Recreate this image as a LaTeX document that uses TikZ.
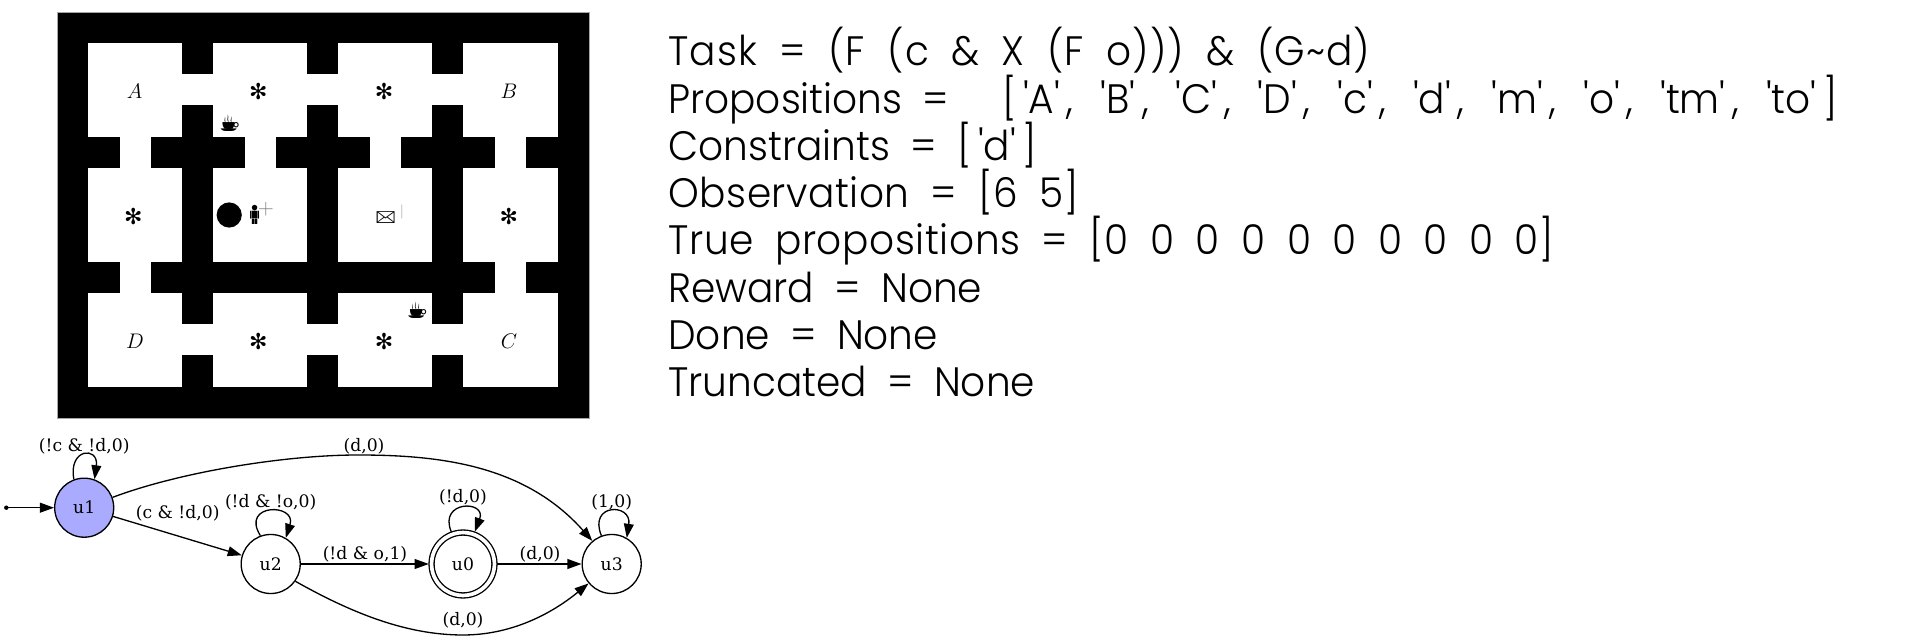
\documentclass[tikz,border=0pt]{standalone}
\usepackage{fontspec}
\usepackage{amsfonts, amsmath, amssymb}
\usepackage{marvosym}
\usetikzlibrary{arrows.meta}
\newfontfamily\infofont[WordSpace=1.9, FakeStretch=0.95]{Poppins Light}
\newfontfamily\dotfont{DejaVu Serif}
\newfontfamily\starfont{DejaVu Sans}
\newcommand{\qt}[1]{\kern3.8pt'#1'\kern3.8pt}
\definecolor{activeblue}{HTML}{AAAAFF}
\tikzset{
  inforow/.style={anchor=base west, inner sep=0pt, font=\infofont\fontsize{23.4pt}{28pt}\selectfont},
  letterbox/.style={inner sep=0pt, font=\fontsize{13pt}{15pt}\selectfont},
  starbox/.style={inner sep=0pt, font=\starfont\fontsize{12.5pt}{14pt}\selectfont},
  state/.style={draw, circle, line width=0.75pt, minimum size=33.6pt, inner sep=0pt, font=\dotfont\fontsize{9.8pt}{11pt}\selectfont},
  edgelabel/.style={inner sep=0pt, font=\dotfont\fontsize{9.8pt}{11pt}\selectfont},
  edge/.style={line width=0.75pt, -{Triangle[length=8pt,width=5.6pt]}}
}
\begin{document}
\begin{tikzpicture}[x=0.02cm, y=-0.02cm]
\useasboundingbox (0,0) rectangle (1908,641);

% the grid world
\fill[black, draw=gray!70, line width=0.3pt] (57,12.7) rectangle (589,418.3);
\foreach \xa/\xb in {88/182, 213/307, 338/432, 463/558}
  \foreach \ya/\yb in {42.7/136.7, 167.7/261.7, 293/386.7}
    \fill[white] (\xa,\ya) rectangle (\xb,\yb);
\foreach \xa/\xb in {182/213, 307/338, 432/463}
  \foreach \ya/\yb in {74/105.3, 324/355}
    \fill[white] (\xa,\ya) rectangle (\xb,\yb);
\foreach \xa/\xb/\ya/\yb in {119.6/151/136.7/167.7, 245/276/136.7/167.7, 369.7/400.7/136.7/167.7, 495/526/136.7/167.7, 119.6/151/261.7/293, 495/526/261.7/293}
  \fill[white] (\xa,\ya) rectangle (\xb,\yb);

\node[letterbox] (roomA) at (134.6,91.7) {$A$};
\node[letterbox] (roomB) at (509,91.7) {$B$};
\node[letterbox] (roomC) at (509,341.5) {$C$};
\node[letterbox] (roomD) at (135,341.5) {$D$};
\foreach \i/\x/\y in {1/258.3/91.7, 2/384/91.7, 3/133.4/216.7, 4/508.8/216.7, 5/258.3/341.5, 6/384/341.5}
  \node[starbox] (star\i) at (\x,\y) {✻};

\node[letterbox] (cupA) at (229.7,122.7) {\Coffeecup};
\node[letterbox] (cupB) at (417.3,310) {\Coffeecup};
\fill[black] (229.2,215) circle (12.6);
\node[letterbox, font=\fontsize{15pt}{17pt}\selectfont] (person) at (254.7,215) {\Gentsroom};
\node[letterbox] (personmark) at (266,209) {\color{gray}$+$};
\node[letterbox] (mail) at (385.7,218.3) {\Letter};
\node[letterbox, font=\fontsize{8pt}{9pt}\selectfont] (mailmark) at (402,211.7) {\color{gray!70}|};

% the reward machine
\coordinate (start) at (6.3,507.7);
\fill (start) circle (2.2);
\node[state, fill=activeblue] (u1) at (84.2,507.7) {u1};
\node[state] (u2) at (270.7,564) {u2};
\node[state, double, double distance=2.1pt, minimum size=35.8pt, outer sep=1.6pt] (u0) at (463,564) {u0};
\node[state] (u3) at (611.7,564) {u3};

\draw[edge] (start) -- (u1);
\draw[edge] (u1) -- (u2);
\draw[edge] (u2) -- (u0);
\draw[edge] (u0) -- (u3);
\draw[edge] (u1.110) .. controls (68,448) and (99,446) .. (u1.70);
\draw[edge] (u2.110) .. controls (240,503) and (297,503) .. (u2.60);
\draw[edge] (u0.110) .. controls (438,500) and (487,500) .. (u0.70);
\draw[edge] (u3.110) .. controls (588,503) and (632,503) .. (u3.60);
\draw[edge] (u1.20) .. controls (180,472) and (285,455) .. (358,455) .. controls (440,455) and (525,465) .. (u3.130);
\draw[edge] (u2.-35) .. controls (350,612) and (405,635) .. (463,635) .. controls (510,635) and (550,615) .. (u3.-140);

\node[edgelabel] (lab11) at (84.2,446) {(!c \& !d,0)};
\node[edgelabel] (lab13) at (364,446) {(d,0)};
\node[edgelabel] (lab12) at (177.7,513.3) {(c \& !d,0)};
\node[edgelabel] (lab22) at (270.7,502.7) {(!d \& !o,0)};
\node[edgelabel] (lab00) at (463,497.7) {(!d,0)};
\node[edgelabel] (lab33) at (611.7,502.7) {(1,0)};
\node[edgelabel] (lab20) at (365,554) {(!d \& o,1)};
\node[edgelabel] (lab03) at (540,554) {(d,0)};
\node[edgelabel] (lab23) at (463,620.7) {(d,0)};

% the printed state
\node[inforow] (task) at (668,66) {\addfontfeature{LetterSpace=2.7}Task = (F (c \& X (F o))) \& (G\textasciitilde d)};
\node[inforow] (props) at (668,113.3) {Propositions =\ \ \kern7pt[\qt{A}, \qt{B}, \qt{C}, \qt{D}, \qt{c}, \qt{d}, \qt{m}, \qt{o}, \qt{tm}, \qt{to}]};
\node[inforow] (cons) at (668,160.5) {Constraints = [\qt{d}]};
\node[inforow] (obs) at (668,207.7) {\addfontfeature{LetterSpace=1.3}Observation = [6 5]};
\node[inforow] (truep) at (668,255) {\addfontfeature{LetterSpace=1.5}True propositions = [0 0 0 0 0 0 0 0 0 0]};
\node[inforow] (reward) at (668,302.2) {Reward = None};
\node[inforow] (done) at (668,349.4) {Done = None};
\node[inforow] (trunc) at (668,396.7) {Truncated = None};
\end{tikzpicture}
\end{document}
